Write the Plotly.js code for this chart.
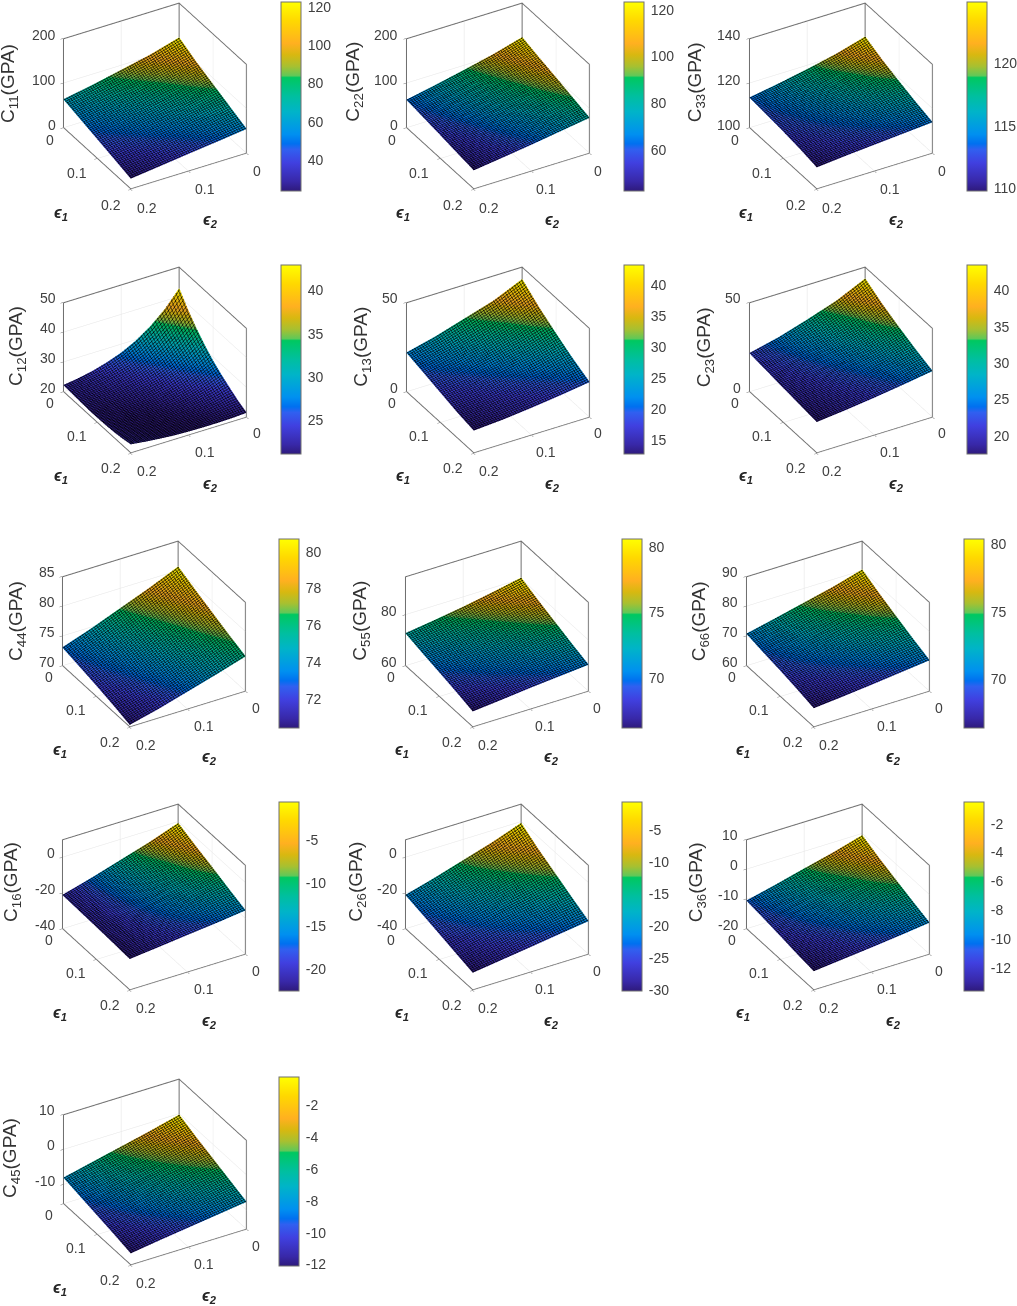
<!DOCTYPE html>
<html>
<head>
<meta charset="utf-8">
<script src="https://cdn.plot.ly/plotly-3.0.1.min.js"></script>
<style>
html, body { margin: 0; padding: 0; background: #fff; overflow: hidden; }
#myDiv { position: absolute; left: 0; top: -50px; }
</style>
</head>
<body>
<div id="myDiv"></div>
<script>
// strain values along both axes
var eps1 = [0, 0.05, 0.1, 0.15, 0.2];
var eps2 = [0, 0.05, 0.1, 0.15, 0.2];
// C12 bends strongly, so it is read at more points
var eps1Fine = [0, 0.025, 0.05, 0.075, 0.1, 0.125, 0.15, 0.175, 0.2];
var eps2Fine = [0, 0.025, 0.05, 0.075, 0.1, 0.125, 0.15, 0.175, 0.2];

// rows follow eps1, columns follow eps2, values
var c11 = [[122.6,104,90,76,64],[103,88,75,64,54],[87,74,62,53,44],[71,59,50,42,34],[55,47,39.5,31.5,23.8]];
var c22 = [[123.3,105,90,76,63],[112,96,82,70,58],[102,87,75,63,53],[91,78,67,57,47.5],[80,70,60,51,42.4]];
var c33 = [[124.9,121.2,118.3,115.8,113.6],[121.5,118.8,116.5,114.6,112.9],[118.7,116.7,115,113.6,112.2],[116.2,114.8,113.6,112.5,111.2],[114,113,112,111,109.8]];
var c12 = [
  [42.9,37.3,33,29.7,27.2,25.4,24,23,22.3],
  [38.5,34,30.4,27.7,25.7,24.3,23.3,22.6,22.1],
  [34.8,31,28.2,26,24.5,23.4,22.6,22.1,21.9],
  [31.6,28.6,26.3,24.6,23.4,22.6,22,21.7,21.7],
  [28.9,26.6,24.8,23.4,22.5,21.9,21.6,21.5,21.7],
  [26.7,24.9,23.5,22.5,21.8,21.4,21.3,21.4,21.8],
  [24.8,23.5,22.5,21.8,21.3,21.2,21.2,21.5,22],
  [23,22.3,21.7,21.3,21.15,21.2,21.4,21.8,22.4],
  [21.6,21.3,21.2,21.2,21.3,21.5,21.9,22.4,23]
];
var c13 = [[43.2,36,31,26,22],[36,30.5,26,22.5,19.5],[30,25.5,22,19,17],[24.5,21,18.5,16.2,14.5],[19.8,17.5,15.5,13.8,12.7]];
var c23 = [[43.5,36,30.5,25.5,21.7],[38,32,27.5,23.8,20.6],[33.5,28.8,25,22,19.5],[29.5,25.8,23,20.5,18.5],[26,23.5,21.2,19.2,17.5]];
var c44 = [[80.7,78.6,76.7,74.8,73.1],[79.4,77.4,75.6,74,72.5],[78.2,76.3,74.7,73.2,71.9],[77,75.3,73.8,72.4,71.2],[75.9,74.4,73,71.6,70.4]];
var c55 = [[80.6,78.3,76.2,74.4,72.8],[77.8,75.8,74,72.5,71.1],[75.3,73.6,72.1,70.8,69.6],[72.8,71.5,70.3,69.2,68],[70.5,69.5,68.5,67.3,66.2]];
var c66 = [[80.4,77.6,75.3,73,70.8],[77.6,75.4,73.5,71.5,69.7],[75.1,73.4,71.7,70.2,68.8],[72.7,71.4,70,68.8,67.7],[70.5,69.4,68.3,67.3,66.4]];
var c16 = [[-0.64,-6.5,-11.5,-16.5,-21],[-4.5,-9.5,-13.5,-17.5,-21.3],[-8,-12,-15.2,-18.5,-21.6],[-11.8,-14.5,-17,-19.5,-22],[-15.3,-17.3,-19,-20.8,-22.5]];
var c26 = [[-0.6,-6.5,-11.5,-16.5,-21],[-6.5,-11,-15,-19,-23.2],[-11.5,-15.2,-18.5,-22,-25.5],[-16.5,-19.5,-22.2,-25,-27.9],[-21.3,-23.5,-25.8,-28,-30.2]];
var c36 = [[-0.5,-3.3,-5.7,-8.2,-10.5],[-3,-5.3,-7.3,-9.3,-11.2],[-5.2,-7,-8.8,-10.4,-12],[-7.3,-8.8,-10.2,-11.6,-12.9],[-9.3,-10.5,-11.6,-12.6,-13.6]];
var c45 = [[-0.2,-2.3,-4.2,-6.1,-8],[-2.2,-3.9,-5.6,-7.3,-9],[-4,-5.5,-7,-8.5,-10],[-5.8,-7.1,-8.4,-9.7,-11],[-7.6,-8.7,-9.8,-10.9,-12.1]];

var surfaces = [c11, c22, c33, c12, c13, c23, c44, c55, c66, c16, c26, c36, c45];
var indices = ['11','22','33','12','13','23','44','55','66','16','26','36','45'];

// z axis ranges and tick marks
var zRanges = [[0,200],[0,200],[100,140],[20,50],[0,50],[0,50],[70,85],[60,95],[60,90],[-40,10],[-40,10],[-20,10],[-15.5,10]];
var zTicks = [[0,100,200],[0,100,200],[100,120,140],[20,30,40,50],[0,50],[0,50],[70,75,80,85],[60,80],[60,70,80,90],[-40,-20,0],[-40,-20,0],[-20,-10,0,10],[-10,0,10]];

// colorbar ticks
var barTicks = [[40,60,80,100,120],[60,80,100,120],[110,115,120],[25,30,35,40],[15,20,25,30,35,40],[20,25,30,35,40],
  [72,74,76,78,80],[70,75,80],[70,75,80],[-20,-15,-10,-5],[-30,-25,-20,-15,-10,-5],[-12,-10,-8,-6,-4,-2],[-12,-10,-8,-6,-4,-2]];

var strainTicks = [0, 0.1, 0.2];
var strainLabels = ['0', '0.1', '0.2'];

// colormap of the bars
var colormap = [[0,'#2e1a7c'],[0.05,'#3828a8'],[0.15,'#4040e0'],[0.22,'#3060f0'],[0.25,'#0070f0'],[0.3,'#0090f0'],
  [0.42,'#00b4c8'],[0.5,'#00bfa0'],[0.6,'#00c860'],[0.61,'#60c858'],[0.66,'#a8c030'],[0.72,'#d8b810'],[0.78,'#ffb020'],[0.9,'#ffd800'],[1,'#ffff00']];

// page placement, pixels
var W = 1017, H = 1371, OFFSET = 50, BOX = 290;
var boxCx = [155,498,842, 155,498,842, 154,497,839, 154,497,839, 155];
var boxCy = [96.5,96.5,96.5, 359.5,359.5,359.5, 633.5,633.5,633.5, 897,897,897, 1171.5];
var boxLeft = [63,405,749, 63,405,749, 62,404,746, 62,404,746, 62];
var boxTop = [2,2,2, 265,265,265, 539,539,539, 802,802,802, 1077];
var barLeft = [281,624,967, 281,624,967, 279,622,964, 279,622,964, 279];
var labelX = [9,354,697, 17,362,706, 17,361,701, 12,357,698, 11];
var labelY = [83,82,82, 346,347,347, 621,621,621, 882,882,882, 1158];

function xp(px) { return px / W; }
function yp(py) { return 1 - (py + OFFSET) / H; }
function flat(z) { return z.reduce(function (a, b) { return a.concat(b); }, []); }

var fontName = 'Liberation Sans, Arial, sans-serif';
var tickFont = {family: fontName, size: 14, color: '#404040'};
var data = [];
var layout = {
  width: W, height: H, autosize: false,
  margin: {l: 0, r: 0, t: 0, b: 0, pad: 0},
  paper_bgcolor: '#fff',
  showlegend: false,
  annotations: []
};

function strainAxis() {
  return {
    range: [0, 0.2], autorange: false,
    tickmode: 'array', tickvals: strainTicks, showticklabels: false,
    title: {text: ''},
    showgrid: true, gridcolor: '#e4e4e4', gridwidth: 1,
    showline: false,
    ticks: 'inside', ticklen: 3, tickcolor: '#707070',
    showbackground: false, zeroline: false, showspikes: false
  };
}

function label(text, x, y, xanchor, font, angle) {
  layout.annotations.push({
    xref: 'paper', yref: 'paper', x: xp(x), y: yp(y),
    xanchor: xanchor, yanchor: 'middle', showarrow: false, textangle: angle || 0,
    text: text, font: font
  });
}

surfaces.forEach(function (z, i) {
  var name = i === 0 ? 'scene' : 'scene' + (i + 1);
  var values = flat(z);
  var cmin = Math.min.apply(null, values), cmax = Math.max.apply(null, values);
  var zlo = zRanges[i][0], zhi = zRanges[i][1];
  data.push({
    type: 'surface', scene: name,
    x: z.length > 5 ? eps2Fine : eps2, y: z.length > 5 ? eps1Fine : eps1, z: z,
    cmin: cmin, cmax: cmax, colorscale: colormap,
    lighting: {ambient: 0.88, diffuse: 0, specular: 0, roughness: 1, fresnel: 0},
    contours: {
      x: {show: true, start: 0.002, end: 0.2, size: 0.004, color: '#000', width: 1},
      y: {show: true, start: 0.002, end: 0.2, size: 0.004, color: '#000', width: 1}
    },
    hoverinfo: 'skip',
    colorbar: {
      x: xp(barLeft[i]), xanchor: 'left', xpad: 0,
      y: yp(boxTop[i] + 94.5), yanchor: 'middle', ypad: 0,
      thicknessmode: 'pixels', thickness: 20, lenmode: 'pixels', len: 189,
      outlinecolor: '#707070', outlinewidth: 1,
      tickmode: 'array', tickvals: barTicks[i], ticktext: barTicks[i].map(String),
      ticks: 'outside', ticklen: 4, tickcolor: 'rgba(0,0,0,0)', tickfont: tickFont
    }
  });
  // box edges, kept just inside the clip bounds
  var xa = 0.0005, xb = 0.1995;
  var za = zlo + 0.003 * (zhi - zlo), zb = zhi - 0.003 * (zhi - zlo);
  data.push({
    type: 'scatter3d', scene: name, mode: 'lines',
    x: [xa, xa, null, xb, xb, xa, xa, xa, xb, xb],
    y: [xa, xa, null, xa, xb, xb, xb, xa, xa, xa],
    z: [za, zb, null, za, za, za, zb, zb, zb, za],
    connectgaps: false,
    line: {color: '#707070', width: 2}, hoverinfo: 'skip', showlegend: false
  });

  var zAxis = strainAxis();
  zAxis.range = zRanges[i];
  zAxis.tickvals = zTicks[i];
  layout[name] = {
    domain: {
      x: [xp(boxCx[i] - BOX / 2), xp(boxCx[i] + BOX / 2)],
      y: [yp(boxCy[i] + BOX / 2), yp(boxCy[i] - BOX / 2)]
    },
    xaxis: strainAxis(), yaxis: strainAxis(), zaxis: zAxis,
    bgcolor: 'rgba(0,0,0,0)',
    aspectmode: 'manual', aspectratio: {x: 0.927, y: 0.927, z: 0.727},
    camera: {
      eye: {x: 0.495, y: 0.85, z: 0.615},
      center: {x: 0, y: 0, z: 0}, up: {x: 0, y: 0, z: 1},
      projection: {type: 'orthographic'}
    }
  };

  var left = boxLeft[i], top = boxTop[i];
  // tick labels along the projected box edges
  zTicks[i].forEach(function (v) {
    var py = top + 125 - (v - zlo) / (zhi - zlo) * 90;
    label(String(v), left - 5, py - 2, 'right', tickFont);
  });
  strainTicks.forEach(function (v, k) {
    var f = v / 0.2;
    label(strainLabels[k], left + 68 * f - (k === 0 ? 13 : 20), top + 125 + 65 * f + 13, 'center', tickFont);
    label(strainLabels[k], left + 184 - 116 * f + (k === 0 ? 10 : 16), top + 153 + 37 * f + 15.5, 'center', tickFont);
  });

  label('C<sub>' + indices[i] + '</sub>(GPA)', labelX[i], labelY[i], 'center',
    {family: fontName, size: 19, color: '#333'}, -90);
  label('<b><i>\u03f5<sub>1</sub></i></b>', left - 2, top + 211, 'center',
    {family: fontName, size: 16, color: '#262626'});
  label('<b><i>\u03f5<sub>2</sub></i></b>', left + 148, top + 219, 'center',
    {family: fontName, size: 16, color: '#262626'});
});

Plotly.newPlot('myDiv', data, layout, {displayModeBar: false});
</script>
</body>
</html>
